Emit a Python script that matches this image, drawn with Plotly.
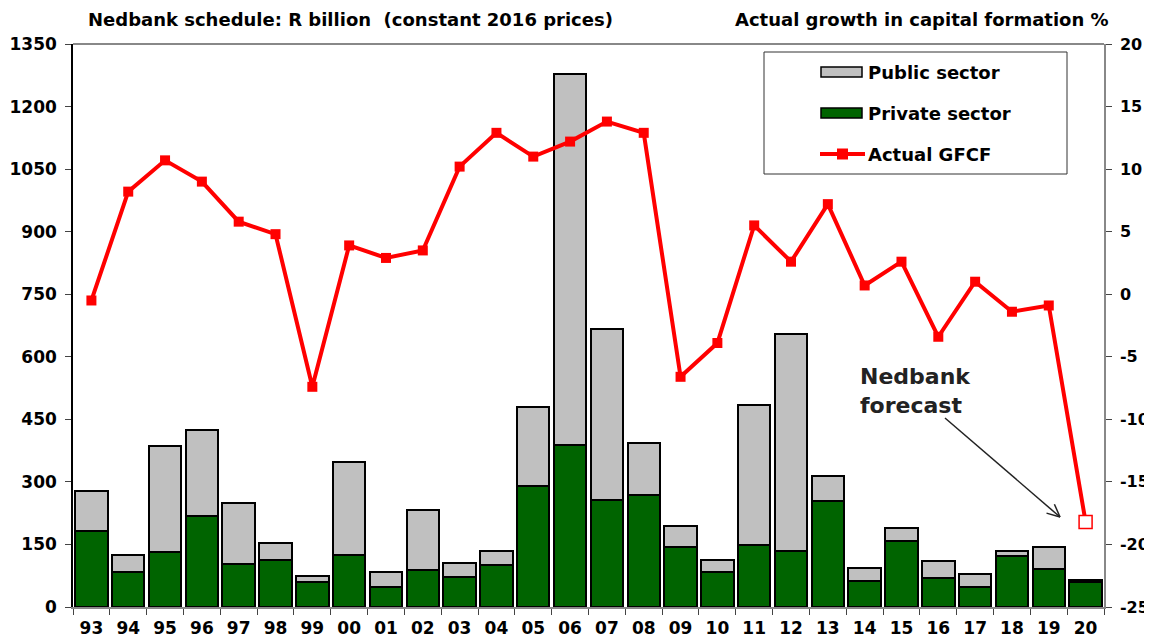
import plotly.graph_objects as go

years = ["93","94","95","96","97","98","99","00","01","02","03","04","05","06",
         "07","08","09","10","11","12","13","14","15","16","17","18","19","20"]
private = [182, 84, 132, 218, 103, 113, 60, 125, 48, 89, 72, 101, 290, 388,
           257, 269, 144, 84, 149, 134, 254, 62, 158, 70, 48, 122, 91, 61]
total = [278, 125, 386, 424, 249, 153, 74, 348, 84, 233, 106, 134, 480, 1278,
         667, 393, 194, 113, 484, 655, 314, 94, 190, 110, 79, 134, 144, 64]
public = [t - p for t, p in zip(total, private)]
gfcf = [-0.5, 8.2, 10.7, 9.0, 5.8, 4.8, -7.4, 3.9, 2.9, 3.5, 10.2, 12.9, 11.0, 12.2,
        13.8, 12.9, -6.6, -3.9, 5.5, 2.6, 7.2, 0.7, 2.6, -3.4, 1.0, -1.4, -0.9, -18.2]

left_ticks = [0, 150, 300, 450, 600, 750, 900, 1050, 1200, 1350]
right_ticks = [-25, -20, -15, -10, -5, 0, 5, 10, 15, 20]

FONT = "DejaVu Sans, Verdana, sans-serif"
RED = "#FF0000"
GREEN = "#006400"
GREY = "#C0C0C0"

# target plot area in screen pixels (page body has an 8px offset)
OFF = 8
L, R, T, B = 73, 1104, 44, 607
W, H = R - L, B - T
def px(x):
    return (x - L) / W
def py(y):
    return (B - y) / H

def b(s):
    return "<b>%s</b>" % s

tf = dict(family=FONT, size=17, color="black")
tf_right = dict(family=FONT, size=16, color="black")
txt = dict(family=FONT, size=18, color="black")

fig = go.Figure()
fig.add_trace(go.Bar(x=years, y=private, name="Private sector",
                     marker=dict(color=GREEN, line=dict(color="black", width=2))))
fig.add_trace(go.Bar(x=years, y=public, name="Public sector",
                     marker=dict(color=GREY, line=dict(color="black", width=2))))
fig.add_trace(go.Scatter(x=years, y=gfcf, name="Actual GFCF", yaxis="y2",
                         mode="lines+markers",
                         line=dict(color=RED, width=4),
                         marker=dict(symbol="square", size=10, color=RED)))
fig.add_trace(go.Scatter(x=years[-1:], y=gfcf[-1:], yaxis="y2", mode="markers",
                         showlegend=False,
                         marker=dict(symbol="square", size=13, color="white",
                                     line=dict(color=RED, width=1.5))))

fig.update_layout(
    width=1152, height=637,
    margin=dict(l=L - OFF, r=1152 - (R - OFF), t=T - OFF, b=637 - (B - OFF)),
    paper_bgcolor="white", plot_bgcolor="white",
    barmode="stack", bargap=0.12,
    showlegend=False,
    font=tf,
    xaxis=dict(type="category", range=[-0.5, len(years) - 0.5],
               tickson="boundaries", ticks="outside", ticklen=6,
               tickcolor="#444", showline=True, linecolor="#888", linewidth=2,
               tickvals=years, ticktext=[b(y) for y in years],
               ticklabelstandoff=5,
               tickfont=tf, showgrid=False, automargin=False),
    yaxis=dict(range=[0, 1350], tickvals=left_ticks,
               ticktext=[b(v) for v in left_ticks], ticks="outside", ticklen=6,
               ticklabelstandoff=5,
               showline=True, linecolor="black", linewidth=1.5, showgrid=False,
               zeroline=False, tickfont=tf, automargin=False),
    yaxis2=dict(range=[-25, 20], tickvals=right_ticks,
                ticktext=[b(v) for v in right_ticks], overlaying="y", side="right",
                ticks="outside", ticklen=6, ticklabelstandoff=5,
                showline=True, linecolor="#888",
                linewidth=1.5, showgrid=False, zeroline=False, tickfont=tf_right,
                automargin=False),
)

# top border of plot
fig.add_shape(type="line", xref="paper", yref="paper", x0=0, x1=1, y0=1, y1=1,
              line=dict(color="#888", width=2))

# legend box and entries
fig.add_shape(type="rect", xref="paper", yref="paper",
              x0=px(764), x1=px(1067), y0=py(174), y1=py(52),
              line=dict(color="#333", width=1), fillcolor="rgba(0,0,0,0)")
legend_rows = [("Public sector", 72, GREY), ("Private sector", 113, GREEN),
               ("Actual GFCF", 154, None)]
for name, yy, col in legend_rows:
    if col is not None:
        fig.add_shape(type="rect", xref="paper", yref="paper",
                      x0=px(821), x1=px(862), y0=py(yy + 5), y1=py(yy - 5),
                      line=dict(color="black", width=1.5), fillcolor=col)
    else:
        fig.add_shape(type="line", xref="paper", yref="paper",
                      x0=px(820), x1=px(865), y0=py(yy), y1=py(yy),
                      line=dict(color=RED, width=4))
        fig.add_shape(type="rect", xref="paper", yref="paper",
                      x0=px(837), x1=px(848), y0=py(yy + 5.5), y1=py(yy - 5.5),
                      line=dict(color=RED, width=0), fillcolor=RED)
    fig.add_annotation(text=b(name), xref="paper", yref="paper",
                       x=px(866), y=py(yy), xanchor="left", yanchor="middle",
                       showarrow=False, font=txt)

fig.add_annotation(text=b("Nedbank schedule: R billion  (constant 2016 prices)"),
                   xref="paper", yref="paper", x=px(86), y=py(20),
                   xanchor="left", yanchor="middle", showarrow=False, font=txt)
fig.add_annotation(text=b("Actual growth in capital formation %"),
                   xref="paper", yref="paper", x=px(1111), y=py(20),
                   xanchor="right", yanchor="middle", showarrow=False, font=txt)
fig.add_annotation(text=b("Nedbank<br>forecast"), align="left",
                   xref="paper", yref="paper", x=px(858), y=py(391),
                   xanchor="left", yanchor="middle", showarrow=False,
                   font=dict(family=FONT, size=22, color="#222"))

# arrow with open head
tip = (1060, 517)
tail = (945, 418)
h1 = (tip[0] - 5.6, tip[1] - 12.8)
h2 = (tip[0] - 13.5, tip[1] - 3.9)
for (x0, y0), (x1, y1) in [(tail, tip), (h1, tip), (h2, tip)]:
    fig.add_shape(type="line", xref="paper", yref="paper",
                  x0=px(x0), y0=py(y0), x1=px(x1), y1=py(y1),
                  line=dict(color="#222", width=1.5))

fig.write_html("out.html")
